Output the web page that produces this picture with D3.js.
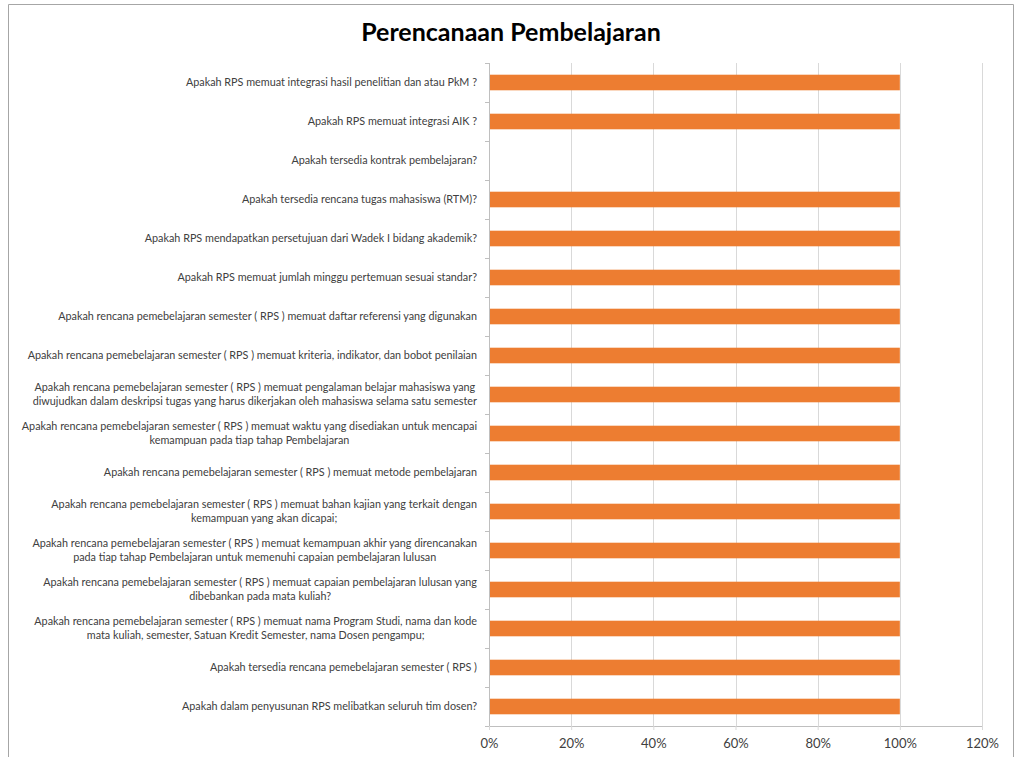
<!DOCTYPE html>
<html>
<head>
<meta charset="utf-8">
<script src="https://cdn.jsdelivr.net/npm/d3@7"></script>
<style>
  html, body { margin: 0; padding: 0; background: #fff; }
  svg { display: block; }
</style>
</head>
<body>
<svg id="chart" width="1015" height="757"></svg>
<script>
// ---- data ----
const categories = [
  "Apakah RPS memuat integrasi hasil penelitian dan atau PkM ?",
  "Apakah RPS memuat integrasi AIK ?",
  "Apakah tersedia kontrak pembelajaran?",
  "Apakah tersedia rencana tugas mahasiswa (RTM)?",
  "Apakah RPS mendapatkan persetujuan dari Wadek I bidang akademik?",
  "Apakah RPS memuat jumlah minggu pertemuan sesuai standar?",
  "Apakah rencana pemebelajaran semester ( RPS ) memuat daftar referensi yang digunakan",
  "Apakah rencana pemebelajaran semester ( RPS ) memuat kriteria, indikator, dan bobot penilaian",
  "Apakah rencana pemebelajaran semester ( RPS ) memuat pengalaman belajar mahasiswa yang\ndiwujudkan dalam deskripsi tugas yang harus dikerjakan oleh mahasiswa selama satu semester",
  "Apakah rencana pemebelajaran semester ( RPS ) memuat waktu yang disediakan untuk mencapai\nkemampuan pada tiap tahap Pembelajaran",
  "Apakah rencana pemebelajaran semester ( RPS ) memuat metode pembelajaran",
  "Apakah rencana pemebelajaran semester ( RPS ) memuat bahan kajian yang terkait dengan\nkemampuan yang akan dicapai;",
  "Apakah rencana pemebelajaran semester ( RPS ) memuat kemampuan akhir yang direncanakan\npada tiap tahap Pembelajaran untuk memenuhi capaian pembelajaran lulusan",
  "Apakah rencana pemebelajaran semester ( RPS ) memuat capaian pembelajaran lulusan yang\ndibebankan pada mata kuliah?",
  "Apakah rencana pemebelajaran semester ( RPS ) memuat nama Program Studi, nama dan kode\nmata kuliah, semester, Satuan Kredit Semester, nama Dosen pengampu;",
  "Apakah tersedia rencana pemebelajaran semester ( RPS )",
  "Apakah dalam penyusunan RPS melibatkan seluruh tim dosen?",
];
const values = [1, 1, 0, 1, 1, 1, 1, 1, 1, 1, 1, 1, 1, 1, 1, 1, 1];
const xTicks = [0, 0.2, 0.4, 0.6, 0.8, 1.0, 1.2];
const title = "Perencanaan Pembelajaran";

// ---- chart ----
const svg = d3.select("#chart");
const width = +svg.attr("width");
const height = +svg.attr("height");
const margin = { top: 63, right: 33, bottom: 31, left: 489 };
const innerWidth = width - margin.left - margin.right;
const innerHeight = height - margin.top - margin.bottom;
const font = "Lato, 'Open Sans', sans-serif";
const textColor = "#404040";

// outer frame (bottom edge lies below the window)
svg.append("path")
  .attr("d", `M8.5,${height} V4.5 H${width - 1.5} V${height}`)
  .attr("fill", "none")
  .attr("stroke", "#a6a6a6")
  .attr("stroke-width", 1);

svg.append("text")
  .attr("x", 511)
  .attr("y", 41)
  .attr("text-anchor", "middle")
  .attr("font-family", font)
  .attr("font-weight", "bold")
  .attr("font-size", 25)
  .attr("fill", "#000")
  .text(title);

const g = svg.append("g")
  .attr("transform", `translate(${margin.left},${margin.top})`);

const x = d3.scaleLinear().domain([0, 1.2]).range([0, innerWidth]);
const y = d3.scaleBand()
  .domain(categories)
  .range([0, innerHeight])
  .paddingInner(0.6)
  .paddingOuter(0.3);

// gridlines
g.append("g")
  .selectAll("line")
  .data(xTicks.slice(1))
  .join("line")
  .attr("x1", (d) => Math.round(x(d)) + 0.5)
  .attr("x2", (d) => Math.round(x(d)) + 0.5)
  .attr("y1", 0)
  .attr("y2", innerHeight)
  .attr("stroke", "#d9d9d9")
  .attr("stroke-width", 1);

// x axis
g.append("g")
  .attr("transform", `translate(0,${innerHeight})`)
  .call(d3.axisBottom(x).tickValues(xTicks).tickFormat(d3.format(".0%")).tickSize(4).tickSizeOuter(0))
  .call((g) => g.select(".domain").attr("stroke", "#bfbfbf"))
  .call((g) => g.selectAll(".tick line").attr("stroke", "#d9d9d9"))
  .call((g) =>
    g.selectAll("text")
      .attr("y", 13)
      .attr("fill", textColor)
      .attr("font-family", font)
      .attr("font-size", 13)
  );

// bars
g.append("g")
  .selectAll("rect")
  .data(values)
  .join("rect")
  .attr("x", 0)
  .attr("y", (d, i) => y(categories[i]))
  .attr("width", (d) => x(d))
  .attr("height", y.bandwidth())
  .attr("fill", "#ed7d31");

// y axis line + boundary ticks
g.append("line")
  .attr("x1", 0.5).attr("x2", 0.5)
  .attr("y1", 0).attr("y2", innerHeight)
  .attr("stroke", "#bfbfbf");
g.append("g")
  .selectAll("line")
  .data(d3.range(categories.length + 1))
  .join("line")
  .attr("x1", -4).attr("x2", 0)
  .attr("y1", (i) => Math.round(i * innerHeight / categories.length) + 0.5)
  .attr("y2", (i) => Math.round(i * innerHeight / categories.length) + 0.5)
  .attr("stroke", "#bfbfbf");

// category labels: block right-aligned, wrapped lines centred
const lineH = 14;
categories.forEach((cat, i) => {
  const lines = cat.split("\n");
  const cy = y(cat) + y.bandwidth() / 2;
  const lg = g.append("g");
  const texts = lines.map((ln, j) =>
    lg.append("text")
      .attr("y", cy + (j - (lines.length - 1) / 2) * lineH)
      .attr("dy", "0.35em")
      .attr("font-family", font)
      .attr("font-size", 10.8)
      .attr("fill", textColor)
      .text(ln)
  );
  const maxW = d3.max(texts, (t) => t.node().getComputedTextLength());
  const cx = -12 - maxW / 2;
  texts.forEach((t) => t.attr("x", cx).attr("text-anchor", "middle"));
});
</script>
</body>
</html>
